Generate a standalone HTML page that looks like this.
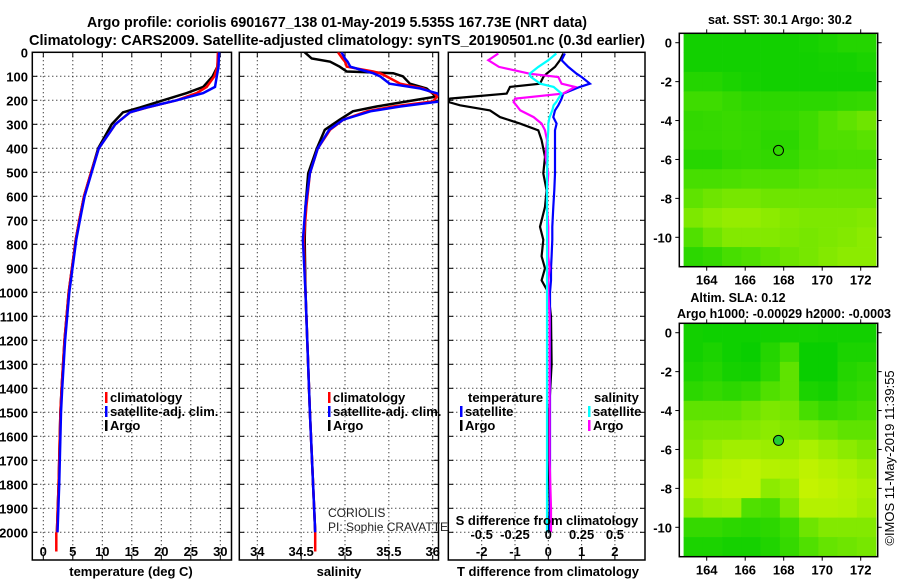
<!DOCTYPE html>
<html><head><meta charset="utf-8">
<style>
body{margin:0;background:#fff;}
svg{display:block;font-family:"Liberation Sans",Arial,sans-serif;}
</style></head>
<body>
<svg id="c" width="900" height="580" viewBox="0 0 900 580" xmlns="http://www.w3.org/2000/svg"></svg>
<script>
// ---------- DATA ----------
const tDepth = [0,60,100,144,170,200,230,250,300,400,500,600,700,780,1000,1200,1400,1500,1800,2000];
const tArgo  = [29.7,29.5,28.7,27.1,24.3,20.3,16.4,13.5,11.6,9.3,8.1,6.9,6.1,5.5,4.3,3.6,3.1,2.9,2.6,2.3];
const tClim  = [29.6,29.5,29.0,27.7,26.0,22.6,17.6,14.7,12.2,9.4,8.1,6.9,6.1,5.5,4.3,3.6,3.1,2.9,2.6,2.3];
const tSat   = [29.8,29.7,29.4,29.1,27.1,22.6,17.5,14.7,12.2,9.4,8.2,7.0,6.2,5.6,4.4,3.7,3.2,3.0,2.7,2.4];
const tClimDeep = [2.2,2.2];
const tClimDeepDepth = [2000,2080];

const sDepth = [0,26,39,60,80,87,100,131,151,172,185,205,226,246,281,323,400,504,642,781,1000,1500,2000];
const sArgo  = [34.54,34.62,34.83,34.94,35.02,35.55,35.66,35.74,35.93,36.0,36.03,35.7,35.36,35.09,34.94,34.77,34.68,34.58,34.55,34.54,34.55,34.60,34.66];
const sClim  = [34.92,34.97,35.0,35.02,35.32,35.4,35.47,35.63,35.89,36.02,36.05,36.0,35.55,35.25,34.98,34.83,34.69,34.60,34.56,34.53,34.55,34.60,34.66];
const sSat   = [34.96,35.0,35.03,35.06,35.25,35.32,35.4,35.51,35.86,36.06,36.08,36.08,35.63,35.29,34.98,34.82,34.69,34.60,34.55,34.52,34.55,34.60,34.66];

const dDepth = [5,33,61,89,103,131,144,172,193,207,221,242,270,297,325,366,436,505,575,644,727,781,850,900,950,1000,1100,1300,1500,1700,1900,2000];
const dtArgo = [0.45,0.35,0.2,-0.05,-0.15,-0.25,-1.15,-1.25,-2.95,-3.0,-2.65,-1.75,-1.45,-0.85,-0.3,-0.2,-0.1,-0.15,-0.05,-0.1,-0.25,-0.15,-0.2,-0.1,-0.2,0.0,0.08,0.1,0.02,0.0,-0.03,0.0];
const dtSat  = [0.5,0.4,0.6,0.85,1.0,1.25,0.95,0.45,0.4,0.35,0.3,0.2,0.15,0.25,0.2,0.2,0.2,0.2,0.18,0.15,0.12,0.12,0.1,0.08,0.08,0.05,0.05,0.05,0.05,0.05,0.05,0.05];
const dsArgo = [-0.375,-0.45,-0.37,-0.14,0.075,0.1,0.2,0.11,-0.25,-0.26,-0.24,-0.21,-0.11,-0.05,-0.025,-0.01,-0.02,0.0,-0.01,-0.01,0.0,0.0,0.0,0.01,0.0,0.0,0.01,0.01,0.01,0.01,0.02,0.02];
const dsSat  = [0.06,0.0,-0.075,-0.14,-0.13,-0.06,0.04,0.1,0.075,0.06,0.04,0.03,0.01,0.0,0.0,-0.005,-0.005,-0.01,-0.01,-0.01,-0.01,-0.01,-0.01,-0.01,-0.01,-0.01,-0.01,-0.01,-0.01,-0.01,-0.01,-0.01];

const depthTicks = [0,100,200,300,400,500,600,700,800,900,1000,1100,1200,1300,1400,1500,1600,1700,1800,1900,2000];
const tTicks = [0,5,10,15,20,25,30];
const sTicks = [34,34.5,35,35.5,36];
const sTickLabels = ["34","34.5","35","35.5","36"];
const dtTicks = [-2,-1,0,1,2];
const dsTicks = [-0.5,-0.25,0,0.25,0.5];
const dsTickLabels = ["-0.5","-0.25","0","0.25","0.5"];
const lonTicks = [164,166,168,170,172];
const latTicks = [0,-2,-4,-6,-8,-10];

const sstGrid = [
 [0.10,0.10,0.10,0.10,0.10,0.10,0.12,0.15,0.20,0.20],
 [0.10,0.10,0.10,0.10,0.10,0.10,0.10,0.12,0.12,0.15],
 [0.20,0.20,0.15,0.12,0.10,0.10,0.10,0.10,0.10,0.10],
 [0.35,0.35,0.30,0.25,0.25,0.25,0.25,0.25,0.28,0.30],
 [0.28,0.30,0.32,0.30,0.28,0.30,0.35,0.45,0.50,0.55],
 [0.30,0.30,0.32,0.30,0.25,0.25,0.35,0.45,0.45,0.48],
 [0.22,0.22,0.28,0.30,0.28,0.30,0.38,0.40,0.42,0.42],
 [0.40,0.40,0.42,0.45,0.45,0.45,0.48,0.50,0.50,0.50],
 [0.50,0.55,0.58,0.58,0.55,0.55,0.55,0.55,0.55,0.55],
 [0.60,0.65,0.68,0.68,0.65,0.62,0.60,0.60,0.60,0.62],
 [0.45,0.55,0.62,0.62,0.62,0.60,0.58,0.60,0.62,0.65],
 [0.25,0.30,0.40,0.45,0.50,0.55,0.58,0.62,0.65,0.65]];
const slaGrid = [
 [0.10,0.08,0.08,0.08,0.10,0.12,0.12,0.10,0.10,0.10],
 [0.10,0.15,0.08,0.05,0.20,0.35,0.05,0.05,0.15,0.15],
 [0.15,0.20,0.12,0.10,0.25,0.50,0.05,0.05,0.20,0.25],
 [0.25,0.30,0.25,0.30,0.45,0.50,0.15,0.12,0.25,0.30],
 [0.50,0.50,0.50,0.55,0.60,0.58,0.40,0.30,0.35,0.40],
 [0.58,0.60,0.60,0.62,0.65,0.62,0.60,0.55,0.50,0.50],
 [0.62,0.68,0.72,0.72,0.70,0.70,0.75,0.70,0.65,0.60],
 [0.70,0.78,0.82,0.85,0.80,0.78,0.85,0.80,0.75,0.70],
 [0.78,0.82,0.85,0.85,0.65,0.70,0.88,0.85,0.80,0.75],
 [0.65,0.70,0.72,0.45,0.40,0.60,0.80,0.80,0.78,0.72],
 [0.30,0.30,0.25,0.22,0.25,0.35,0.55,0.62,0.62,0.62],
 [0.15,0.15,0.12,0.12,0.18,0.30,0.45,0.52,0.55,0.58]];

// ---------- helpers ----------
const svg = document.getElementById('c');
const NS = 'http://www.w3.org/2000/svg';
function mk(tag, attrs, parent){const e=document.createElementNS(NS,tag);for(const k in attrs)e.setAttribute(k,attrs[k]);(parent||svg).appendChild(e);return e;}
function txt(x,y,s,size,anchor,bold,parent){const t=mk('text',{x:x,y:y,'font-size':size,'text-anchor':anchor||'start','font-weight':bold?'bold':'normal',fill:'#000'},parent);t.textContent=s;return t;}

const Y = d => 52.3 + d*0.24;
const TOP = 52.3, BOT = 560;
const xT = v => 43.3 + v*5.9;
const xS = v => 257.3 + (v-34)*87.7;
const xDT = v => 548.3 + v*33.3;
const xDS = v => 548.3 + v*133.3;

let t1 = txt(337,27,'Argo profile: coriolis 6901677_138 01-May-2019 5.535S 167.73E (NRT data)',15,'middle',true);


t1.setAttribute('textLength','500');
t1.setAttribute('lengthAdjust','spacingAndGlyphs');
let t2 = txt(337,45,'Climatology: CARS2009. Satellite-adjusted climatology: synTS_20190501.nc (0.3d earlier)',15,'middle',true);


t2.setAttribute('textLength','616');
t2.setAttribute('lengthAdjust','spacingAndGlyphs');

const panels = [
 {name:'temperature-panel',x0:32.3,x1:231.5,ticks:tTicks,fx:xT,labels:tTicks.map(String),title:'temperature (deg C)',tx:131},
 {name:'salinity-panel',x0:239.3,x1:438.5,ticks:sTicks,fx:xS,labels:sTickLabels,title:'salinity',tx:339},
 {name:'difference-panel',x0:448.3,x1:645,ticks:dtTicks,fx:xDT,labels:dtTicks.map(String),title:'T difference from climatology',tx:548}
];
panels.forEach((p,i)=>{
  const g = mk('g',{});
  
  
  depthTicks.forEach(d=>{ if(d>0){ const l=mk('line',{x1:p.x0,x2:p.x1,y1:Y(d),y2:Y(d),stroke:'#000','stroke-width':1,'stroke-dasharray':'1 3'},g);
     
     mk('line',{x1:p.x0,x2:p.x0+5,y1:Y(d),y2:Y(d),stroke:'#000'},g);
     mk('line',{x1:p.x1-5,x2:p.x1,y1:Y(d),y2:Y(d),stroke:'#000'},g);} });
  p.ticks.forEach((v,k)=>{ const x=p.fx(v);
     const l=mk('line',{x1:x,x2:x,y1:TOP,y2:BOT,stroke:'#000','stroke-width':1,'stroke-dasharray':'1 3'},g);
     
     mk('line',{x1:x,x2:x,y1:BOT-5,y2:BOT,stroke:'#000'},g);
     mk('line',{x1:x,x2:x,y1:TOP,y2:TOP+5,stroke:'#000'},g);
     const tl=txt(x,556,p.labels[k],13,'middle',true,g);
     
  });
  const at = txt(p.tx,576,p.title,13,'middle',true,g);
  
  const r=mk('rect',{x:p.x0,y:TOP,width:p.x1-p.x0,height:BOT-TOP,fill:'none',stroke:'#000','stroke-width':1.5},g);
  
});
depthTicks.forEach(d=>{ const l=txt(28,Y(d)+5,String(d),13,'end',true);   });

function line(xs,ds,fx,color,w,name){
  const pts = xs.map((v,i)=>fx(v).toFixed(1)+','+Y(ds[i]).toFixed(1)).join(' ');
  const pl = mk('polyline',{points:pts,fill:'none',stroke:color,'stroke-width':w,'stroke-linejoin':'miter'});
  
  
  return pl;
}
const defs = mk('defs',{});
panels.forEach((p,i)=>{ const cp=mk('clipPath',{id:'cp'+i},defs); mk('rect',{x:p.x0,y:TOP,width:p.x1-p.x0,height:BOT-TOP},cp); });

line(tClimDeep,tClimDeepDepth,xT,'#f00',2.5,'temperature-climatology-deep').setAttribute('clip-path','url(#cp0)');
line(tArgo,tDepth,xT,'#000',2.5,'temperature-argo-line').setAttribute('clip-path','url(#cp0)');
line(tClim,tDepth,xT,'#f00',2.5,'temperature-climatology-line').setAttribute('clip-path','url(#cp0)');
line(tSat,tDepth,xT,'#00f',2.5,'temperature-satellite-line').setAttribute('clip-path','url(#cp0)');
line([34.66,34.66],[2000,2080],xS,'#f00',2.5,'salinity-climatology-deep').setAttribute('clip-path','url(#cp1)');
line(sArgo,sDepth,xS,'#000',2.5,'salinity-argo-line').setAttribute('clip-path','url(#cp1)');
line(sClim,sDepth,xS,'#f00',2.5,'salinity-climatology-line').setAttribute('clip-path','url(#cp1)');
line(sSat,sDepth,xS,'#00f',2.5,'salinity-satellite-line').setAttribute('clip-path','url(#cp1)');
line(dtArgo,dDepth,xDT,'#000',2.2,'tdiff-argo-line').setAttribute('clip-path','url(#cp2)');
line(dtSat,dDepth,xDT,'#00f',2.2,'tdiff-satellite-line').setAttribute('clip-path','url(#cp2)');
line(dsArgo,dDepth,xDS,'#f0f',2.2,'sdiff-argo-line').setAttribute('clip-path','url(#cp2)');
line(dsSat,dDepth,xDS,'#0ff',2.2,'sdiff-satellite-line').setAttribute('clip-path','url(#cp2)');

const sdt = txt(547,525,'S difference from climatology',13,'middle',true);


dsTicks.forEach((v,k)=>{ const l=txt(xDS(v),539,dsTickLabels[k],13,'middle',true);   });

function legend(x,y,color,label,name){
  const g=mk('g',{});
  
  
  mk('rect',{x:x,y:y-10,width:2.5,height:11,fill:color},g);
  txt(x+5,y,label,13,'start',true,g);
}
legend(105,402,'#f00','climatology','legend-temp-climatology');
legend(105,416,'#00f','satellite-adj. clim.','legend-temp-satellite');
legend(105,430,'#000','Argo','legend-temp-argo');
legend(328,402,'#f00','climatology','legend-sal-climatology');
legend(328,416,'#00f','satellite-adj. clim.','legend-sal-satellite');
legend(328,430,'#000','Argo','legend-sal-argo');
let lt=txt(468,402,'temperature',13,'start',true); 
legend(460,416,'#00f','satellite','legend-tdiff-satellite');
legend(460,430,'#000','Argo','legend-tdiff-argo');
let ls=txt(594,402,'salinity',13,'start',true); 
legend(588,416,'#0ff','satellite','legend-sdiff-satellite');
legend(588,430,'#f0f','Argo','legend-sdiff-argo');

let c1=txt(328,517,'CORIOLIS',12,'start',false);  c1.setAttribute('fill','#222');
let c2=txt(328,531,'PI: Sophie CRAVATTE',12,'start',false);  c2.setAttribute('fill','#222');

// ---------- maps ----------
function lerp(a,b,t){return Math.round(a+(b-a)*t);}
function cmap(v){
  const stops=[[0,[0,204,0]],[0.45,[80,224,0]],[0.75,[170,240,0]],[1,[220,245,0]]];
  for(let i=0;i<stops.length-1;i++){ const [a,ca]=stops[i],[b,cb]=stops[i+1];
    if(v<=b){const t=(v-a)/(b-a);return 'rgb('+lerp(ca[0],cb[0],t)+','+lerp(ca[1],cb[1],t)+','+lerp(ca[2],cb[2],t)+')';} }
  return 'rgb(220,245,0)';
}
function drawMap(oy,grid,name,lat0y){
  const bx0=679.3,bx1=877.7,by0=oy,by1=oy+233.4;
  const lonX = lon => 706.7 + (lon-164)*19.25;
  const latY = lat => lat0y - lat*19.46;
  const g=mk('g',{});
  
  
  const cid='mc'+name; const cp=mk('clipPath',{id:cid},defs); mk('rect',{x:bx0,y:by0,width:bx1-bx0,height:by1-by0},cp);
  const cg=mk('g',{'clip-path':'url(#'+cid+')'},g);
  grid.forEach((row,r)=>row.forEach((v,c)=>{
    const x=lonX(162.8+c), y=latY(0.5-r);
    const rc=mk('rect',{x:x,y:y,width:19.6,height:19.8,fill:cmap(v)},cg);
    
  }));
  mk('rect',{x:bx0,y:by0,width:bx1-bx0,height:by1-by0,fill:'none',stroke:'#000','stroke-width':1.5},g);
  lonTicks.forEach(l=>{const x=lonX(l); mk('line',{x1:x,x2:x,y1:by1,y2:by1+4,stroke:'#000'},g); mk('line',{x1:x,x2:x,y1:by0-4,y2:by0,stroke:'#000'},g); const tl=txt(x,by1+18,String(l),13,'middle',true,g); });
  latTicks.forEach(l=>{const y=latY(l); mk('line',{x1:bx0-4,x2:bx0,y1:y,y2:y,stroke:'#000'},g); mk('line',{x1:bx1,x2:bx1+4,y1:y,y2:y,stroke:'#000'},g); const tl=txt(672,y+5,String(l),13,'end',true,g); });
  return {lonX,latY,g};
}
const m1=drawMap(33.3,sstGrid,'sst-map',42.7);
const m2=drawMap(323.3,slaGrid,'sla-map',332.7);
const pc1=mk('circle',{cx:m1.lonX(167.73),cy:m1.latY(-5.535),r:5,fill:'none',stroke:'#000','stroke-width':1});


const pc2=mk('circle',{cx:m2.lonX(167.73),cy:m2.latY(-5.535),r:5,fill:'#22cc33',stroke:'#000','stroke-width':1});



let mt1=txt(780,24,'sat. SST: 30.1 Argo: 30.2',12.5,'middle',true); 
let mt2=txt(738,302,'Altim. SLA: 0.12',12.5,'middle',true); 
let mt3=txt(784,318,'Argo h1000: -0.00029 h2000: -0.0003',12.5,'middle',true); 
let cr=txt(0,0,'©IMOS 11-May-2019 11:39:55',13,'middle',false); cr.setAttribute('transform','translate(894,458) rotate(-90)');

</script>
</body></html>
